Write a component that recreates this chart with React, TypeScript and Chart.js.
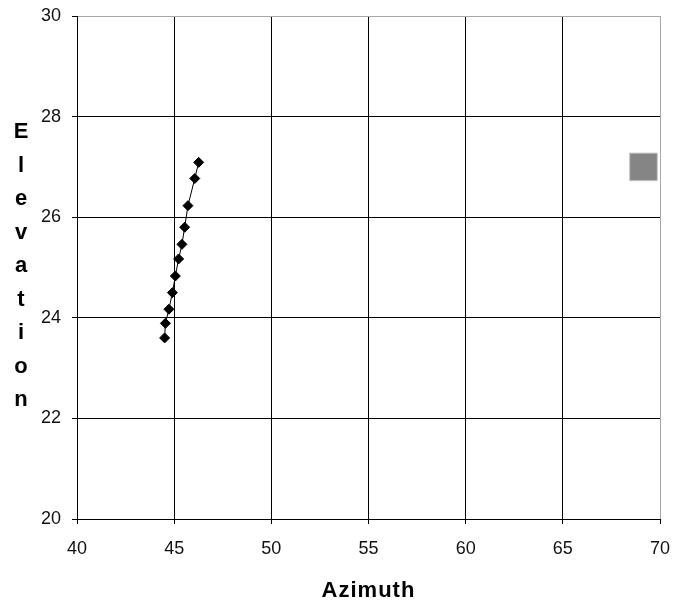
import React, { useEffect, useRef } from "react";
import { Chart, registerables } from "chart.js";

Chart.register(...registerables);

const azimuth = [46.26, 46.06, 45.71, 45.54, 45.4, 45.23, 45.06, 44.91, 44.73, 44.55, 44.51];
const elevation = [27.09, 26.77, 26.23, 25.8, 25.46, 25.17, 24.83, 24.5, 24.17, 23.89, 23.6];
const markerAz = [69.15];
const markerEl = [27.0];
const xTicks = [40, 45, 50, 55, 60, 65, 70];
const yTicks = [20, 22, 24, 26, 28, 30];
const xTitle = "Azimuth";
const yTitle = "Elevation";

const FONT = "'Liberation Sans', Arial, sans-serif";

const titlePlugin = {
  id: "axisTitles",
  afterDraw(chart: any) {
    const ctx = chart.ctx;
    const area = chart.chartArea;
    ctx.save();
    ctx.fillStyle = "#000";
    ctx.font = `bold 22px ${FONT}`;
    ctx.textAlign = "center";
    ctx.textBaseline = "alphabetic";
    try {
      (ctx as any).letterSpacing = "1px";
    } catch (e) {}
    ctx.fillText(xTitle, (area.left + area.right) / 2, 597);
    try {
      (ctx as any).letterSpacing = "0px";
    } catch (e) {}
    const letters = yTitle.split("");
    const first = 138;
    const last = 406;
    const step = (last - first) / (letters.length - 1);
    letters.forEach((ch, i) => {
      ctx.fillText(ch, 21, first + i * step);
    });
    ctx.restore();
  },
};

const zeroPad = (scale: any) => {
  scale.paddingLeft = 0;
  scale.paddingRight = 0;
  scale.paddingTop = 0;
  scale.paddingBottom = 0;
};

export default function App() {
  const ref = useRef<HTMLCanvasElement | null>(null);
  useEffect(() => {
    if (!ref.current) return;
    const chart = new Chart(ref.current, {
      type: "scatter",
      data: {
        datasets: [
          {
            data: azimuth.map((x, i) => ({ x, y: elevation[i] })),
            showLine: true,
            borderColor: "#000",
            borderWidth: 1,
            backgroundColor: "#000",
            pointStyle: "rectRot",
            pointRadius: 5,
            pointBorderWidth: 1,
            pointBorderColor: "#000",
            pointBackgroundColor: "#000",
          },
          {
            data: markerAz.map((x, i) => ({ x, y: markerEl[i] })),
            showLine: false,
            pointStyle: "rect",
            pointRadius: 19.5,
            pointBorderWidth: 1,
            pointBorderColor: "#c4c4c4",
            pointBackgroundColor: "#858585",
            backgroundColor: "#858585",
            borderColor: "#c4c4c4",
          },
        ],
      },
      options: {
        responsive: false,
        animation: false,
        devicePixelRatio: 1,
        layout: { autoPadding: false, padding: { left: 0, right: 13, top: 16, bottom: 0 } },
        plugins: { legend: { display: false }, tooltip: { enabled: false } },
        scales: {
          x: {
            type: "linear",
            min: 40,
            max: 70,
            afterBuildTicks: (scale: any) => {
              scale.ticks = xTicks.map((v) => ({ value: v }));
            },
            afterFit: (scale: any) => {
              scale.height = 83;
              zeroPad(scale);
            },
            ticks: {
              color: "#111",
              font: { family: FONT, size: 18 },
              padding: 14,
              maxRotation: 0,
            },
            grid: {
              color: (c: any) => (c.tick && c.tick.value === 70 ? "#a8a8a8" : "#000"),
              tickColor: "#000",
              tickLength: 5,
              lineWidth: 1,
            },
            border: { display: true, color: "#000", width: 1 },
          },
          y: {
            type: "linear",
            min: 20,
            max: 30,
            afterBuildTicks: (scale: any) => {
              scale.ticks = yTicks.map((v) => ({ value: v }));
            },
            afterFit: (scale: any) => {
              scale.width = 77;
              zeroPad(scale);
            },
            ticks: {
              color: "#111",
              font: { family: FONT, size: 18 },
              padding: 11,
            },
            grid: {
              color: (c: any) => (c.tick && c.tick.value === 30 ? "#a8a8a8" : "#000"),
              tickColor: "#000",
              tickLength: 5,
              lineWidth: 1,
            },
            border: { display: true, color: "#000", width: 1 },
          },
        },
      },
      plugins: [titlePlugin],
    } as any);
    return () => chart.destroy();
  }, []);
  return (
    <div style={{ position: "absolute", left: 0, top: 0, width: 673, height: 602, background: "#fff" }}>
      <canvas ref={ref} width={673} height={602} style={{ width: 673, height: 602, display: "block" }} />
    </div>
  );
}
